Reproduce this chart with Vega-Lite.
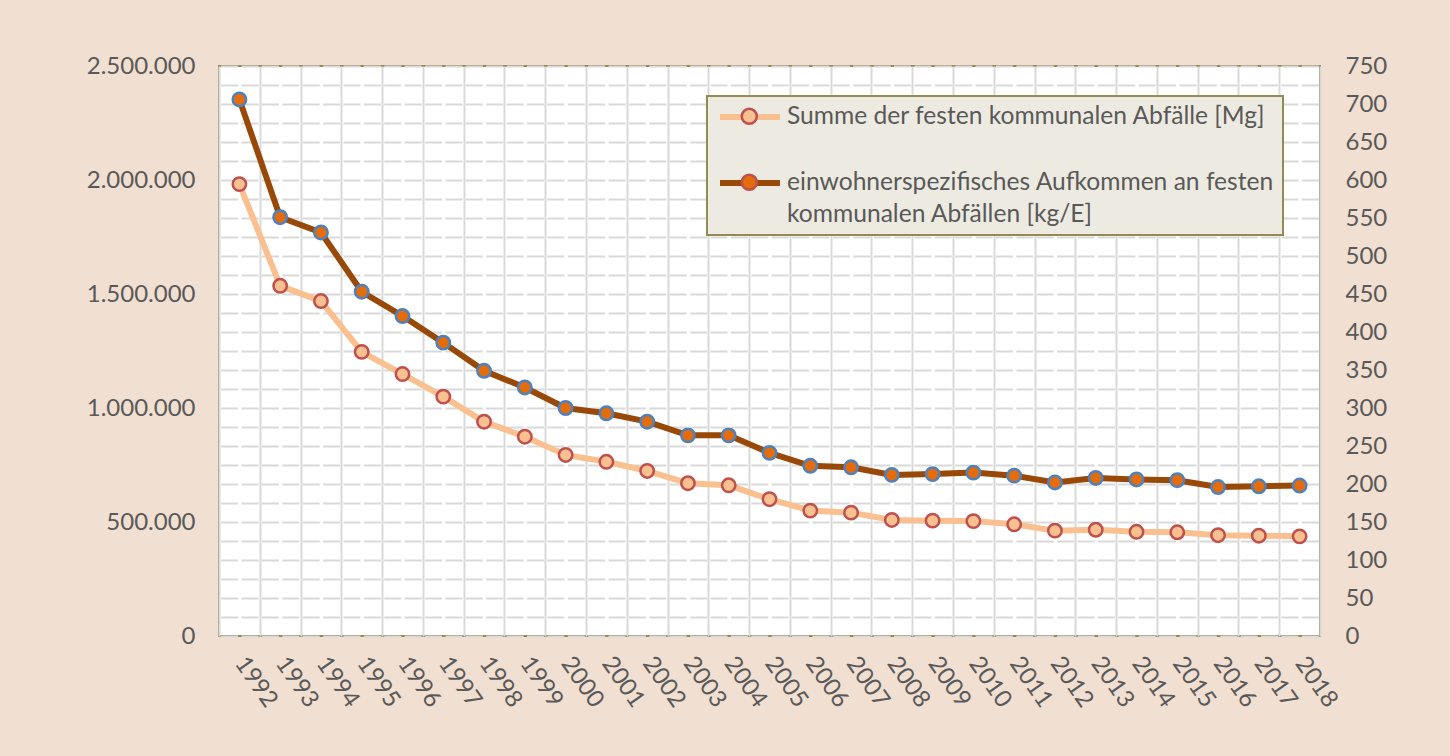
{
  "$schema": "https://vega.github.io/schema/vega-lite/v6.json",
  "width": 1101,
  "height": 570,
  "autosize": {"type": "none"},
  "padding": {"left": 219, "top": 66, "right": 130, "bottom": 120},
  "background": "#F1DFD1",
  "config": {
    "font": "Lato",
    "view": {"fill": "white", "stroke": "#948A54", "strokeWidth": 2},
    "axis": {"labelFont": "Lato", "labelFontSize": 24, "labelColor": "#595959", "domain": false, "ticks": false, "title": null, "labelOverlap": false, "labelBound": false, "labelFlush": false}
  },
  "data": {"values": [
    {"year": 1992, "s": "A", "v": 1982000}, {"year": 1993, "s": "A", "v": 1536000}, {"year": 1994, "s": "A", "v": 1469000},
    {"year": 1995, "s": "A", "v": 1246000}, {"year": 1996, "s": "A", "v": 1149000}, {"year": 1997, "s": "A", "v": 1050000},
    {"year": 1998, "s": "A", "v": 940000}, {"year": 1999, "s": "A", "v": 874000}, {"year": 2000, "s": "A", "v": 794000},
    {"year": 2001, "s": "A", "v": 764000}, {"year": 2002, "s": "A", "v": 724000}, {"year": 2003, "s": "A", "v": 670000},
    {"year": 2004, "s": "A", "v": 661000}, {"year": 2005, "s": "A", "v": 600000}, {"year": 2006, "s": "A", "v": 550000},
    {"year": 2007, "s": "A", "v": 541000}, {"year": 2008, "s": "A", "v": 509000}, {"year": 2009, "s": "A", "v": 506000},
    {"year": 2010, "s": "A", "v": 504000}, {"year": 2011, "s": "A", "v": 490000}, {"year": 2012, "s": "A", "v": 462000},
    {"year": 2013, "s": "A", "v": 466000}, {"year": 2014, "s": "A", "v": 457000}, {"year": 2015, "s": "A", "v": 455000},
    {"year": 2016, "s": "A", "v": 442000}, {"year": 2017, "s": "A", "v": 440000}, {"year": 2018, "s": "A", "v": 437000},
    {"year": 1992, "s": "B", "v": 706}, {"year": 1993, "s": "B", "v": 551}, {"year": 1994, "s": "B", "v": 531},
    {"year": 1995, "s": "B", "v": 453}, {"year": 1996, "s": "B", "v": 421}, {"year": 1997, "s": "B", "v": 386},
    {"year": 1998, "s": "B", "v": 349}, {"year": 1999, "s": "B", "v": 327}, {"year": 2000, "s": "B", "v": 300},
    {"year": 2001, "s": "B", "v": 293}, {"year": 2002, "s": "B", "v": 282}, {"year": 2003, "s": "B", "v": 264},
    {"year": 2004, "s": "B", "v": 264}, {"year": 2005, "s": "B", "v": 241}, {"year": 2006, "s": "B", "v": 224},
    {"year": 2007, "s": "B", "v": 222}, {"year": 2008, "s": "B", "v": 212}, {"year": 2009, "s": "B", "v": 213},
    {"year": 2010, "s": "B", "v": 215}, {"year": 2011, "s": "B", "v": 211}, {"year": 2012, "s": "B", "v": 202},
    {"year": 2013, "s": "B", "v": 208}, {"year": 2014, "s": "B", "v": 206}, {"year": 2015, "s": "B", "v": 205},
    {"year": 2016, "s": "B", "v": 196}, {"year": 2017, "s": "B", "v": 197}, {"year": 2018, "s": "B", "v": 198}
  ]},
  "encoding": {
    "x": {
      "field": "year", "type": "quantitative",
      "scale": {"domain": [1991.5, 2018.5], "nice": false, "zero": false},
      "axis": {
        "values": [1991.5, 1992, 1992.5, 1993, 1993.5, 1994, 1994.5, 1995, 1995.5, 1996, 1996.5, 1997, 1997.5, 1998, 1998.5, 1999, 1999.5, 2000, 2000.5, 2001, 2001.5, 2002, 2002.5, 2003, 2003.5, 2004, 2004.5, 2005, 2005.5, 2006, 2006.5, 2007, 2007.5, 2008, 2008.5, 2009, 2009.5, 2010, 2010.5, 2011, 2011.5, 2012, 2012.5, 2013, 2013.5, 2014, 2014.5, 2015, 2015.5, 2016, 2016.5, 2017, 2017.5, 2018, 2018.5],
        "labelExpr": "datum.value % 1 == 0 ? format(datum.value, 'd') : ''",
        "labelAngle": 55, "labelAlign": "left", "labelBaseline": "middle", "labelPadding": 23,
        "grid": true, "gridColor": "#D9D9D9", "gridWidth": 2,
        "gridOpacity": {"condition": {"test": "datum.value % 1 == 0", "value": 0}, "value": 1}
      }
    }
  },
  "layer": [
    {
      "transform": [{"filter": {"field": "s", "equal": "A"}}],
      "encoding": {
        "y": {
          "field": "v", "type": "quantitative",
          "scale": {"domain": [0, 2500000], "nice": false},
          "axis": {"orient": "left", "values": [0, 500000, 1000000, 1500000, 2000000, 2500000], "labelExpr": "replace(replace(format(datum.value, ',d'), ',', '.'), ',', '.')", "grid": false, "labelPadding": 24}
        }
      },
      "layer": [
        {
          "mark": {"type": "line", "strokeWidth": 6},
          "encoding": {
            "stroke": {"field": "s", "type": "nominal", "scale": {"range": ["#FAC090", "#984807"]},
              "legend": {"orient": "none", "legendX": 488, "legendY": 30, "title": null, "symbolType": "M -3 0 L 3 0", "symbolSize": 400, "symbolStrokeWidth": 6,
                "labelFont": "Lato", "labelFontSize": 24.6, "labelColor": "#595959", "labelLimit": 1000, "labelBaseline": "top", "labelOffset": 24, "symbolOffset": 22,
                "labelExpr": "datum.value == 'A' ? 'Summe der festen kommunalen Abfälle [Mg]' : ['einwohnerspezifisches Aufkommen an festen', 'kommunalen Abfällen [kg/E]']",
                "padding": 8, "rowPadding": 40, "fillColor": "#EDEBE1", "strokeColor": "#948A54",
                "encode": {"legend": {"update": {"strokeWidth": {"value": 2}}}, "labels": {"update": {"dy": {"value": -12.3}, "lineHeight": {"value": 32}}}}}
            }
          }
        },
        {
          "mark": {"type": "point", "filled": true, "size": 180, "strokeWidth": 2.5, "stroke": "#C0504D", "opacity": 1},
          "encoding": {
            "fill": {"field": "s", "type": "nominal", "scale": {"domain": ["A", "B"], "range": ["#FAC090", "#E46C0A"]},
              "legend": {"orient": "none", "legendX": 488, "legendY": 30, "title": null, "symbolType": "M -0.75 0 A 0.75 0.75 0 1 1 0.75 0 A 0.75 0.75 0 1 1 -0.75 0 Z", "symbolSize": 400, "symbolStrokeWidth": 2.5, "symbolOpacity": 1,
                "labelFont": "Lato", "labelFontSize": 24.6, "labelColor": "transparent", "labelLimit": 1000, "labelBaseline": "top", "labelOffset": 24, "symbolOffset": 22,
                "labelExpr": "datum.value == 'A' ? 'Summe der festen kommunalen Abfälle [Mg]' : ['einwohnerspezifisches Aufkommen an festen', 'kommunalen Abfällen [kg/E]']",
                "padding": 8, "rowPadding": 29,
                "encode": {"symbols": {"update": {"stroke": {"signal": "datum.value == 'A' ? '#C0504D' : '#4F81BD'"}}}, "labels": {"update": {"dy": {"value": -12.3}, "lineHeight": {"value": 32}}}}}
            }
          }
        }
      ]
    },
    {
      "transform": [{"filter": {"field": "s", "equal": "B"}}],
      "encoding": {
        "y": {
          "field": "v", "type": "quantitative",
          "scale": {"domain": [0, 750], "nice": false},
          "axis": {"orient": "right", "values": [0, 25, 50, 75, 100, 125, 150, 175, 200, 225, 250, 275, 300, 325, 350, 375, 400, 425, 450, 475, 500, 525, 550, 575, 600, 625, 650, 675, 700, 725, 750],
            "labelExpr": "datum.value % 50 == 0 ? datum.label : ''", "labelAlign": "left", "labelPadding": 25,
            "grid": true, "gridColor": "#D9D9D9", "gridWidth": 2, "gridDash": [17, 3.39], "gridDashOffset": 18.7}
        }
      },
      "layer": [
        {
          "mark": {"type": "line", "strokeWidth": 6},
          "encoding": {"stroke": {"field": "s", "type": "nominal"}}
        },
        {
          "mark": {"type": "point", "filled": true, "size": 180, "strokeWidth": 2.5, "stroke": "#4F81BD", "opacity": 1},
          "encoding": {"fill": {"field": "s", "type": "nominal"}}
        }
      ]
    }
  ],
  "resolve": {"scale": {"y": "independent"}}
}
